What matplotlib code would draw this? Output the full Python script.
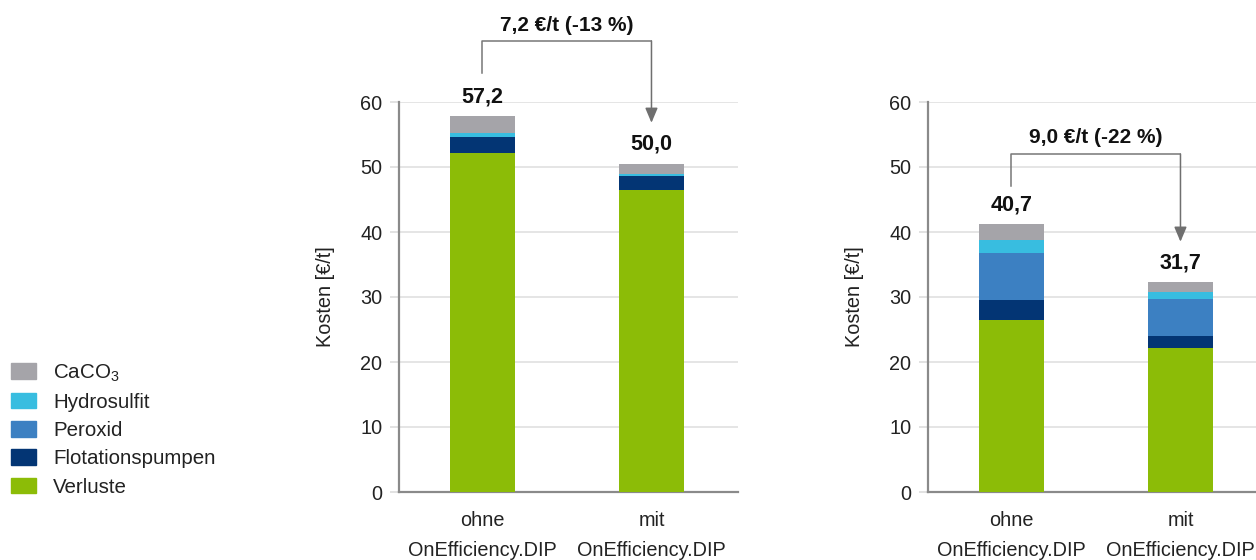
import matplotlib
matplotlib.use("Agg")
import matplotlib.pyplot as plt
from matplotlib.patches import Patch

plt.rcParams["font.family"] = ["Liberation Sans", "DejaVu Sans"]
plt.rcParams["mathtext.fontset"] = "custom"
plt.rcParams["mathtext.rm"] = "Liberation Sans"

# --- données ---
categories = ["ohne\nOnEfficiency.DIP", "mit\nOnEfficiency.DIP"]
components = ["Verluste", "Flotationspumpen", "Peroxid", "Hydrosulfit", "CaCO$_3$"]
colors = ["#8cbc07", "#033574", "#3c80c2", "#38bde0", "#a5a4a9"]

# graphique gauche
left_values = {
    "Verluste":         [52.1, 46.5],
    "Flotationspumpen": [2.5, 2.1],
    "Peroxid":          [0.0, 0.0],
    "Hydrosulfit":      [0.6, 0.3],
    "CaCO$_3$":         [2.6, 1.6],
}
left_totals = ["57,2", "50,0"]
left_delta = "7,2 €/t (-13 %)"

# graphique droit
right_values = {
    "Verluste":         [26.5, 22.2],
    "Flotationspumpen": [3.1, 1.8],
    "Peroxid":          [7.2, 5.7],
    "Hydrosulfit":      [2.0, 1.1],
    "CaCO$_3$":         [2.4, 1.5],
}
right_totals = ["40,7", "31,7"]
right_delta = "9,0 €/t (-22 %)"

yticks = [0, 10, 20, 30, 40, 50, 60]

W, H = 1256, 560
FS = 14.3
fig = plt.figure(figsize=(W / 100, H / 100), dpi=100)


def draw_panel(ax, values, totals, delta, bracket_y, text_y, start_y, tip_off):
    x = range(len(categories))
    bottom = [0.0] * len(categories)
    for comp, col in zip(components, colors):
        v = values[comp]
        ax.bar(x, v, bottom=bottom, width=0.385, color=col, zorder=3)
        bottom = [b + vi for b, vi in zip(bottom, v)]

    for xi, tot, lab in zip(x, bottom, totals):
        ax.text(xi, tot + 3.0, lab, ha="center", va="center",
                fontsize=15.5, fontweight="bold", color="#111")

    # crochet + flèche de la différence
    ax.plot([0, 0, 1], [start_y, bracket_y, bracket_y], color="#777",
            lw=1.1, clip_on=False, zorder=4)
    ax.annotate("", xy=(1, bottom[1] + tip_off), xytext=(1, bracket_y),
                arrowprops=dict(arrowstyle="-|>,head_length=0.9,head_width=0.38",
                                color="#6f6f6f", lw=1.1, shrinkA=0, shrinkB=0),
                annotation_clip=False)
    ax.text(0.5, text_y, delta, ha="center", va="center",
            fontsize=15, fontweight="bold", color="#111")

    ax.set_xlim(-0.494, 1.512)
    ax.set_ylim(0, 60)
    ax.set_yticks(yticks)
    ax.set_xticks(list(x))
    ax.set_xticklabels(categories, fontsize=FS, color="#222", linespacing=1.7)
    ax.tick_params(axis="x", length=0, pad=14)
    ax.tick_params(axis="y", length=6.5, width=1.2, color="#dddddd",
                   labelsize=FS, labelcolor="#222", pad=5.5)
    ax.grid(axis="y", color="#e0e0e0", lw=1.2, zorder=0)
    for s in ["top", "right"]:
        ax.spines[s].set_visible(False)
    for s in ["left", "bottom"]:
        ax.spines[s].set_color("#8a8a8a")
        ax.spines[s].set_linewidth(1.6)
    ax.set_ylabel("Kosten [€/t]", fontsize=FS, color="#222")
    ax.yaxis.set_label_coords(-0.19, 0.5)


ax1 = fig.add_axes([399 / W, 68 / H, 339 / W, 390 / H])
draw_panel(ax1, left_values, left_totals, left_delta,
           bracket_y=69.4, text_y=71.8, start_y=64.5, tip_off=6.3)

ax2 = fig.add_axes([928 / W, 68 / H, 339 / W, 390 / H])
draw_panel(ax2, right_values, right_totals, right_delta,
           bracket_y=52.0, text_y=54.6, start_y=47.1, tip_off=6.2)

# légende (ordre inverse de l'empilement)
handles = [Patch(color=c) for c in colors[::-1]]
fig.legend(handles, components[::-1], loc="upper left",
           bbox_to_anchor=(11 / W, 1 - 362 / H), frameon=False,
           fontsize=14.8, handlelength=1.2, handleheight=0.78,
           handletextpad=0.85, labelspacing=0.45, borderpad=0,
           borderaxespad=0, labelcolor="#222")

fig.savefig("out.png", dpi=100)
